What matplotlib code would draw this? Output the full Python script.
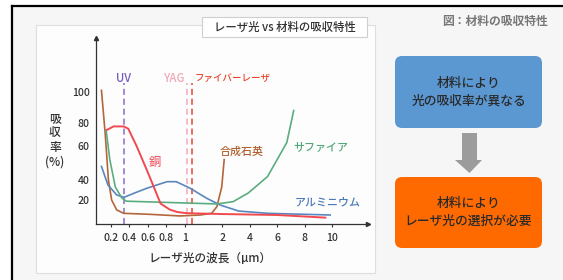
import numpy as np
import matplotlib
matplotlib.use("Agg")
import matplotlib.pyplot as plt
from matplotlib.patches import Rectangle, FancyBboxPatch, Polygon

plt.rcParams['font.family'] = ['Noto Sans CJK JP', 'DejaVu Sans']
plt.rcParams['font.weight'] = 'medium'

# data
copper_x = [0.16, 0.23, 0.34, 0.39, 0.48, 0.59, 0.68, 0.74, 0.84, 0.92, 1.06, 2.0, 6.0, 9.5]
copper_y = [74, 77, 77, 75, 60, 46, 30, 17, 12, 10, 9, 8.3, 7.5, 5.3]

sapphire_x = [0.15, 0.19, 0.25, 0.32, 0.37, 1.86, 2.8, 3.9, 5.3, 6.7, 7.2]
sapphire_y = [74, 52, 33, 22, 19, 16.7, 18.6, 27, 42, 63, 88]

aluminum_x = [0.10, 0.17, 0.265, 0.345, 0.45, 0.59, 0.81, 0.91, 1.15, 1.59, 1.95, 3.2, 5.3, 9.85]
aluminum_y = [48, 35, 25, 22.7, 26.7, 31.7, 38.3, 38.3, 31.7, 21.7, 15.8, 10.8, 8.9, 7.5]

quartz_x = [0.10, 0.14, 0.175, 0.21, 0.265, 0.34, 0.64, 0.95, 1.42, 1.72, 1.86, 1.99, 2.15]
quartz_y = [101, 71, 40, 20, 11.7, 8.9, 8, 6.7, 7.5, 8.9, 14.4, 33, 52]

laser_x = [0.34, 1.064, 1.19]
laser_names = ['UV', 'YAG', 'ファイバーレーザ']
laser_colors = ['#8a6cc8', '#f4a8c0', '#e8452c']
laser_top = 106

x_ticks = [0.2, 0.4, 0.6, 0.8, 1, 2, 4, 6, 8, 10]
x_ticklabels = ['0.2', '0.4', '0.6', '0.8', '1', '2', '4', '6', '8', '10']
y_ticks = [20, 40, 60, 80, 100]

# schematic axes: piecewise linear spacing like the original drawing
xv = [0, 0.2, 1, 2, 10, 20]
xp = [92.2, 110.7, 184.5, 222, 332, 469.5]
yv = [0, 20, 40, 60, 80, 100, 200]
yp = [0, 24, 44, 78, 101, 132, 287]


def xf(x):
    return np.interp(x, xv, xp)


def xi(p):
    return np.interp(p, xp, xv)


def yf(y):
    return np.interp(y, yv, yp)


def yi(p):
    return np.interp(p, yp, yv)


fig = plt.figure(figsize=(5.63, 2.80), dpi=100)
fig.patch.set_facecolor('white')

# background drawing in pixel units
bg = fig.add_axes([0, 0, 1, 1])
bg.set_xlim(0, 563)
bg.set_ylim(280, 0)
bg.axis('off')
bg.add_patch(Rectangle((12, 6), 560, 280, fc='#f6f6f6', ec='none'))
bg.plot([12, 12], [6, 280], color='black', lw=1.6)
bg.plot([12, 563], [6, 6], color='black', lw=1.6)
bg.add_patch(Rectangle((36, 25), 339, 248, fc='#fdfdfd', ec='#dedede', lw=0.8))
bg.add_patch(Rectangle((202, 17), 165, 20, fc='white', ec='#cfcfcf', lw=0.8))
bg.text(284.5, 27, 'レーザ光 vs 材料の吸収特性', ha='center', va='center',
        fontsize=8.2, color='#333333')

bg.text(548, 21, '図：材料の吸収特性', ha='right', va='center',
        fontsize=8.5, color='#777777', fontweight='bold')
bg.add_patch(FancyBboxPatch((395, 56), 147, 72, boxstyle='round,pad=0,rounding_size=7',
                            fc='#5b97d1', ec='none'))
bg.text(468.5, 92, '材料により\n光の吸収率が異なる', ha='center', va='center',
        fontsize=9.2, color='#2a2a2a', linespacing=1.45)
bg.add_patch(Polygon([(462, 133), (477, 133), (477, 160), (482, 160), (469.5, 173),
                      (455, 160), (462, 160)], closed=True, fc='#9c9c9c', ec='none'))
bg.add_patch(FancyBboxPatch((395, 177), 147, 71, boxstyle='round,pad=0,rounding_size=7',
                            fc='#ff6a00', ec='none'))
bg.text(468.5, 212.5, '材料により\nレーザ光の選択が必要', ha='center', va='center',
        fontsize=9.2, color='#2a2a2a', linespacing=1.45)

bg.text(55, 140, '吸\n収\n率\n(%)', ha='center', va='center', fontsize=8.5,
        color='#333333', linespacing=1.15)
bg.text(210, 258, 'レーザ光の波長（μm）', ha='center', va='center', fontsize=8.4,
        color='#333333')

# chart
ax = fig.add_axes([96 / 563, 56 / 280, 272 / 563, 186 / 280])
ax.set_facecolor('none')
ax.set_xscale('function', functions=(xf, xi))
ax.set_yscale('function', functions=(yf, yi))
ax.set_xlim(0.041, 12.6)
ax.set_ylim(0, 134.8)

for s in ['top', 'right']:
    ax.spines[s].set_visible(False)
for s in ['left', 'bottom']:
    ax.spines[s].set_color('#333333')
    ax.spines[s].set_linewidth(0.9)
ax.plot(1, 0, '>', color='#333333', ms=3, transform=ax.transAxes, clip_on=False)
ax.plot(0, 1, '^', color='#333333', ms=3, transform=ax.transAxes, clip_on=False)

ax.set_xticks(x_ticks)
ax.set_xticklabels(x_ticklabels)
ax.set_yticks(y_ticks)
ax.minorticks_off()
ax.tick_params(axis='x', direction='out', length=2.5, width=0.8, color='#333333',
               labelsize=7.5, labelcolor='#333333', pad=4)
ax.tick_params(axis='y', length=0, labelsize=7.5, labelcolor='#333333', pad=4.5)

for lx, name, col in zip(laser_x, laser_names, laser_colors):
    ax.vlines(lx, 0, laser_top, colors=col, linestyles=(0, (4, 2.5)), lw=1.1)

ax.plot(quartz_x, quartz_y, color='#b5653a', lw=1.2)
ax.plot(aluminum_x, aluminum_y, color='#5a86c0', lw=1.2)
ax.plot(sapphire_x, sapphire_y, color='#5aad80', lw=1.2)
ax.plot(copper_x, copper_y, color='#f04a50', lw=1.4)

ax.text(laser_x[0], 109, laser_names[0], ha='center', va='center', fontsize=8.2,
        color='#7a5cc0')
ax.annotate(laser_names[1], xy=(laser_x[1], 109), xytext=(-2, 0), textcoords='offset points',
            ha='right', va='center', fontsize=8.2, color='#f0a8b8')
ax.annotate(laser_names[2], xy=(laser_x[2], 109), xytext=(2, 0), textcoords='offset points',
            ha='left', va='center', fontsize=6.8, color='#e8452c')

ax.text(0.68, 50, '銅', ha='center', va='center', fontsize=8.8, color='#f0606a')
ax.text(3.45, 56.5, '合成石英', ha='center', va='center', fontsize=7.9, color='#b0602e')
ax.text(9.2, 59.4, 'サファイア', ha='center', va='center', fontsize=7.9, color='#50a878')
ax.text(9.64, 18.3, 'アルミニウム', ha='center', va='center', fontsize=7.9, color='#4a7ab8')

fig.savefig('out.png', dpi=100)
